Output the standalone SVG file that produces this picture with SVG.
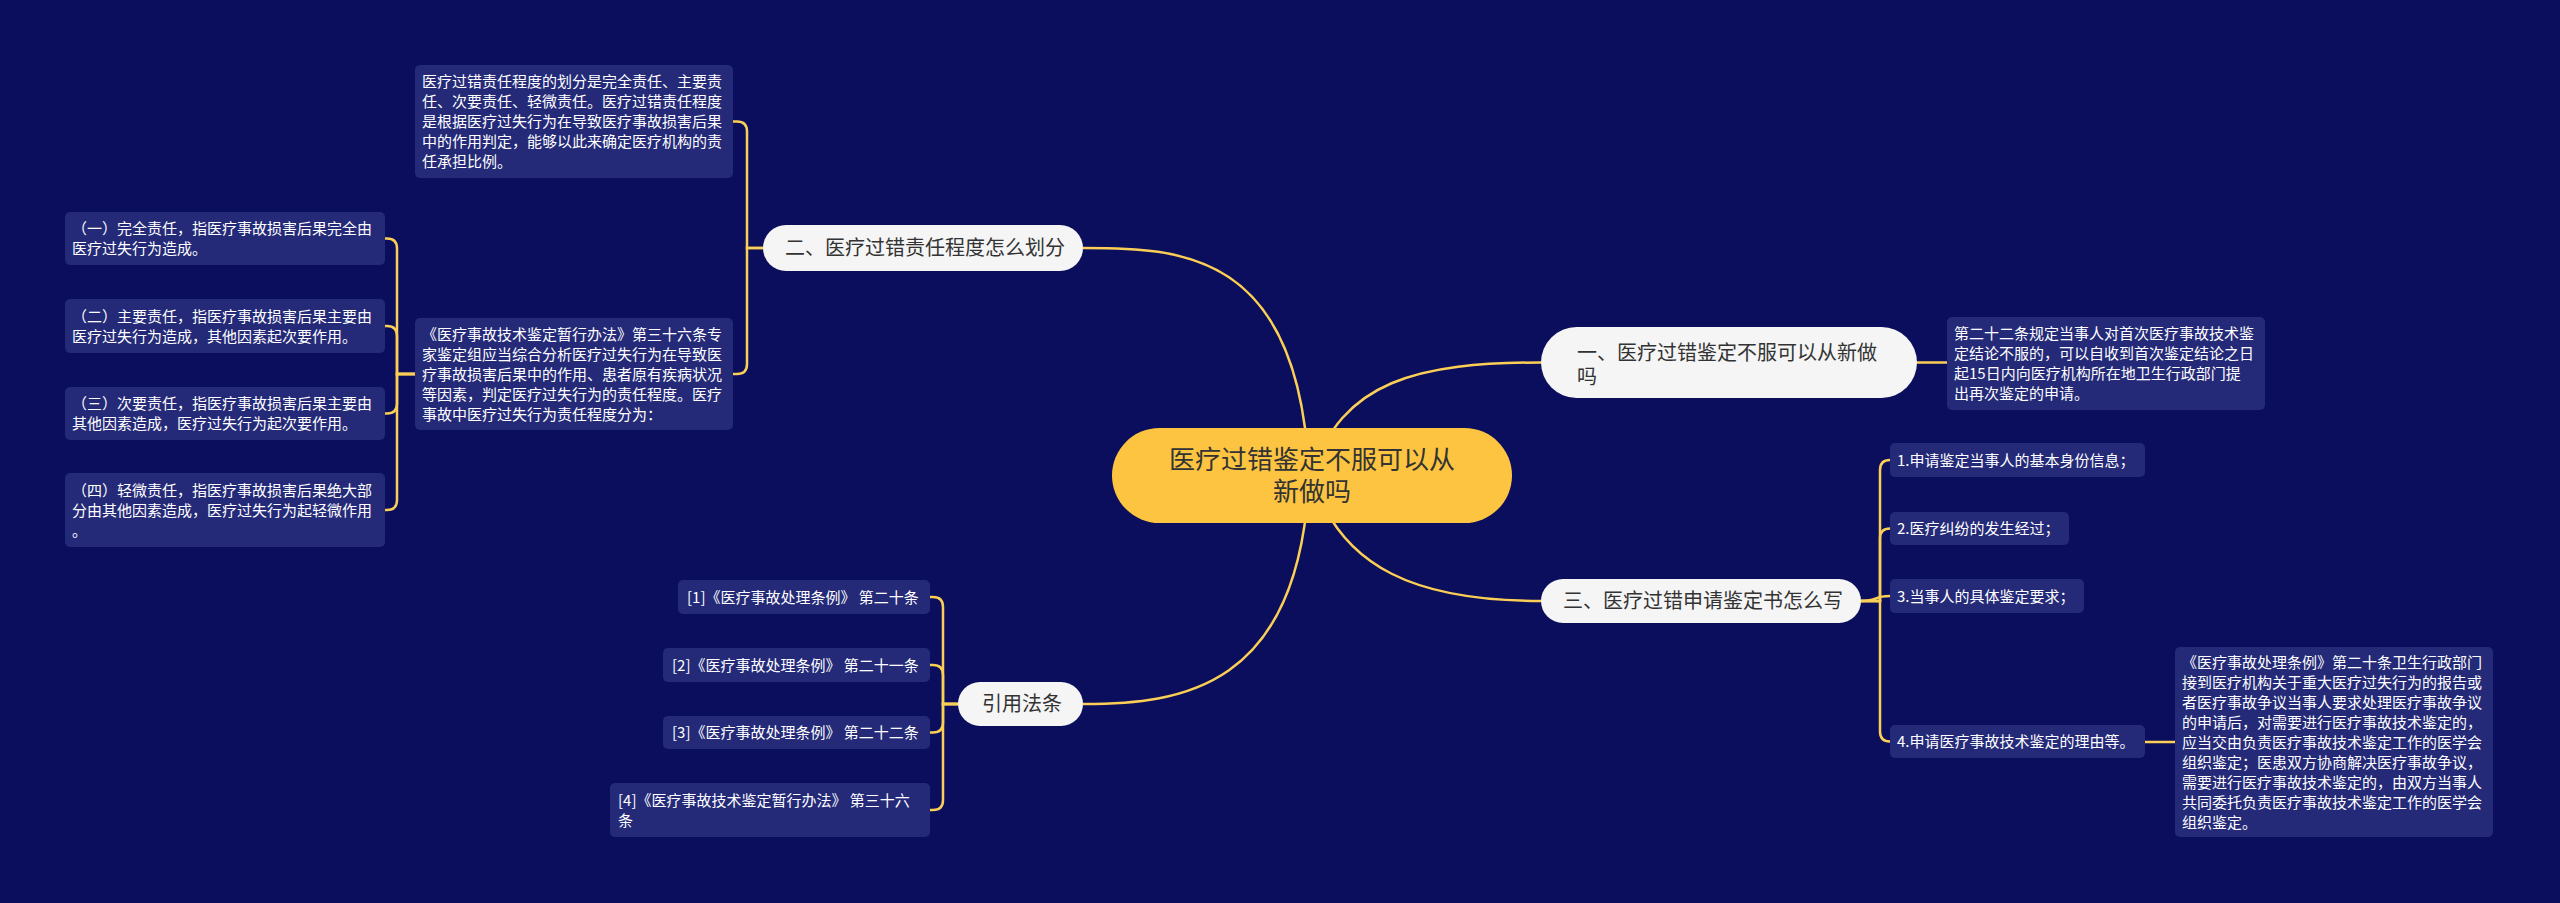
<svg xmlns="http://www.w3.org/2000/svg" width="2560" height="903" viewBox="0 0 2560 903">
<style>
.bg{fill:#0a0e5c}
.ln{fill:none;stroke:#fbcf55;stroke-width:2.5;stroke-linecap:round}
.leaf{fill:#242a78}
.lt{font-family:"Noto Sans CJK SC","Noto Sans",sans-serif;font-size:15px;fill:#ffffff}
.node{fill:#f5f5f5}
.nt{font-family:"Noto Sans CJK SC","Noto Sans",sans-serif;font-size:20px;fill:#333333}
.root{fill:#fcc440}
.rt{font-family:"Noto Sans CJK SC","Noto Sans",sans-serif;font-size:26px;fill:#333333}
</style>
<rect class="bg" x="0" y="0" width="2560" height="903"/>
<g id="connectors">
<path class="ln" d="M 1309 476 C 1300 250 1180 248 1083 248"/>
<path class="ln" d="M 1312 476 C 1340 380 1420 362.5 1541 362.5"/>
<path class="ln" d="M 1312 476 C 1340 570 1420 601 1541 601"/>
<path class="ln" d="M 1309 476 C 1300 690 1180 704 1083 704"/>
<path class="ln" d="M 763 248 H 747 V 131.5 Q 747 121.5 737 121.5 H 733"/>
<path class="ln" d="M 763 248 H 747 V 364 Q 747 374 737 374 H 733"/>
<path class="ln" d="M 415 374 H 397 V 248.5 Q 397 238.5 387 238.5 H 385"/>
<path class="ln" d="M 415 374 H 397 V 336 Q 397 326 387 326 H 385"/>
<path class="ln" d="M 415 374 H 397 V 403.5 Q 397 413.5 387 413.5 H 385"/>
<path class="ln" d="M 415 374 H 397 V 500 Q 397 510 387 510 H 385"/>
<path class="ln" d="M 1917 362.5 H 1947"/>
<path class="ln" d="M 1861 601 H 1880 V 470 Q 1880 460 1890 460"/>
<path class="ln" d="M 1861 601 H 1880 V 538.5 Q 1880 528.5 1890 528.5"/>
<path class="ln" d="M 1861 601 C 1880 601 1872 596 1890 596"/>
<path class="ln" d="M 1861 601 H 1880 V 731.5 Q 1880 741.5 1890 741.5"/>
<path class="ln" d="M 2145 742 H 2175"/>
<path class="ln" d="M 958 704 H 943 V 607 Q 943 597 933 597 H 930"/>
<path class="ln" d="M 958 704 H 943 V 675 Q 943 665 933 665 H 930"/>
<path class="ln" d="M 958 704 H 943 V 722.5 Q 943 732.5 933 732.5 H 930"/>
<path class="ln" d="M 958 704 H 943 V 800 Q 943 810 933 810 H 930"/>
</g>
<g id="root">
<rect class="root" x="1112" y="428" width="400" height="95" rx="47.5"/>
<text class="rt" text-anchor="middle"><tspan x="1312" y="469">医疗过错鉴定不服可以从</tspan><tspan x="1312" y="501">新做吗</tspan></text>
</g>
<g id="n2">
<rect class="node" x="763" y="225" width="320" height="46" rx="23"/>
<text class="nt" x="785" y="255">二、医疗过错责任程度怎么划分</text>
</g>
<g id="n2a">
<rect class="leaf" x="415" y="65" width="318" height="113" rx="5"/>
<text class="lt"><tspan x="422" y="87">医疗过错责任程度的划分是完全责任、主要责</tspan><tspan x="422" y="107">任、次要责任、轻微责任。医疗过错责任程度</tspan><tspan x="422" y="127">是根据医疗过失行为在导致医疗事故损害后果</tspan><tspan x="422" y="147">中的作用判定，能够以此来确定医疗机构的责</tspan><tspan x="422" y="167">任承担比例。</tspan></text>
</g>
<g id="n2b">
<rect class="leaf" x="415" y="318" width="318" height="112" rx="5"/>
<text class="lt"><tspan x="422" y="339.5">《医疗事故技术鉴定暂行办法》第三十六条专</tspan><tspan x="422" y="359.5">家鉴定组应当综合分析医疗过失行为在导致医</tspan><tspan x="422" y="379.5">疗事故损害后果中的作用、患者原有疾病状况</tspan><tspan x="422" y="399.5">等因素，判定医疗过失行为的责任程度。医疗</tspan><tspan x="422" y="419.5">事故中医疗过失行为责任程度分为：</tspan></text>
</g>
<g id="n2b1">
<rect class="leaf" x="65" y="212" width="320" height="53" rx="5"/>
<text class="lt"><tspan x="72" y="234">（一）完全责任，指医疗事故损害后果完全由</tspan><tspan x="72" y="254">医疗过失行为造成。</tspan></text>
</g>
<g id="n2b2">
<rect class="leaf" x="65" y="299" width="320" height="54" rx="5"/>
<text class="lt"><tspan x="72" y="321.5">（二）主要责任，指医疗事故损害后果主要由</tspan><tspan x="72" y="341.5">医疗过失行为造成，其他因素起次要作用。</tspan></text>
</g>
<g id="n2b3">
<rect class="leaf" x="65" y="387" width="320" height="53" rx="5"/>
<text class="lt"><tspan x="72" y="409">（三）次要责任，指医疗事故损害后果主要由</tspan><tspan x="72" y="429">其他因素造成，医疗过失行为起次要作用。</tspan></text>
</g>
<g id="n2b4">
<rect class="leaf" x="65" y="473" width="320" height="74" rx="5"/>
<text class="lt"><tspan x="72" y="495.5">（四）轻微责任，指医疗事故损害后果绝大部</tspan><tspan x="72" y="515.5">分由其他因素造成，医疗过失行为起轻微作用</tspan><tspan x="72" y="535.5">。</tspan></text>
</g>
<g id="n1">
<rect class="node" x="1541" y="327" width="376" height="71" rx="35.5"/>
<text class="nt"><tspan x="1577" y="360">一、医疗过错鉴定不服可以从新做</tspan><tspan x="1577" y="384">吗</tspan></text>
</g>
<g id="n1a">
<rect class="leaf" x="1947" y="317" width="318" height="93" rx="5"/>
<text class="lt"><tspan x="1954" y="339">第二十二条规定当事人对首次医疗事故技术鉴</tspan><tspan x="1954" y="359">定结论不服的，可以自收到首次鉴定结论之日</tspan><tspan x="1954" y="379">起15日内向医疗机构所在地卫生行政部门提</tspan><tspan x="1954" y="399">出再次鉴定的申请。</tspan></text>
</g>
<g id="n3">
<rect class="node" x="1541" y="579" width="320" height="44" rx="22"/>
<text class="nt" x="1563" y="608">三、医疗过错申请鉴定书怎么写</text>
</g>
<g id="n3a">
<rect class="leaf" x="1890" y="443" width="255" height="34" rx="5"/>
<text class="lt" x="1897" y="465.5">1.申请鉴定当事人的基本身份信息；</text>
</g>
<g id="n3b">
<rect class="leaf" x="1890" y="512" width="179" height="33" rx="5"/>
<text class="lt" x="1897" y="534">2.医疗纠纷的发生经过；</text>
</g>
<g id="n3c">
<rect class="leaf" x="1890" y="579" width="194" height="34" rx="5"/>
<text class="lt" x="1897" y="601.5">3.当事人的具体鉴定要求；</text>
</g>
<g id="n3d">
<rect class="leaf" x="1890" y="725" width="255" height="33" rx="5"/>
<text class="lt" x="1897" y="747">4.申请医疗事故技术鉴定的理由等。</text>
</g>
<g id="n3d1">
<rect class="leaf" x="2175" y="647" width="318" height="190" rx="5"/>
<text class="lt"><tspan x="2182" y="667.5">《医疗事故处理条例》第二十条卫生行政部门</tspan><tspan x="2182" y="687.5">接到医疗机构关于重大医疗过失行为的报告或</tspan><tspan x="2182" y="707.5">者医疗事故争议当事人要求处理医疗事故争议</tspan><tspan x="2182" y="727.5">的申请后，对需要进行医疗事故技术鉴定的，</tspan><tspan x="2182" y="747.5">应当交由负责医疗事故技术鉴定工作的医学会</tspan><tspan x="2182" y="767.5">组织鉴定；医患双方协商解决医疗事故争议，</tspan><tspan x="2182" y="787.5">需要进行医疗事故技术鉴定的，由双方当事人</tspan><tspan x="2182" y="807.5">共同委托负责医疗事故技术鉴定工作的医学会</tspan><tspan x="2182" y="827.5">组织鉴定。</tspan></text>
</g>
<g id="n4">
<rect class="node" x="958" y="682" width="125" height="44" rx="22"/>
<text class="nt" x="982" y="711">引用法条</text>
</g>
<g id="n4a">
<rect class="leaf" x="678" y="580" width="252" height="34" rx="5"/>
<text class="lt" x="687" y="602.5">[1]《医疗事故处理条例》 第二十条</text>
</g>
<g id="n4b">
<rect class="leaf" x="663" y="648" width="267" height="34" rx="5"/>
<text class="lt" x="672" y="670.5">[2]《医疗事故处理条例》 第二十一条</text>
</g>
<g id="n4c">
<rect class="leaf" x="663" y="716" width="267" height="33" rx="5"/>
<text class="lt" x="672" y="738">[3]《医疗事故处理条例》 第二十二条</text>
</g>
<g id="n4d">
<rect class="leaf" x="610" y="783" width="320" height="54" rx="5"/>
<text class="lt"><tspan x="618" y="805.5">[4]《医疗事故技术鉴定暂行办法》 第三十六</tspan><tspan x="618" y="825.5">条</tspan></text>
</g>
</svg>
